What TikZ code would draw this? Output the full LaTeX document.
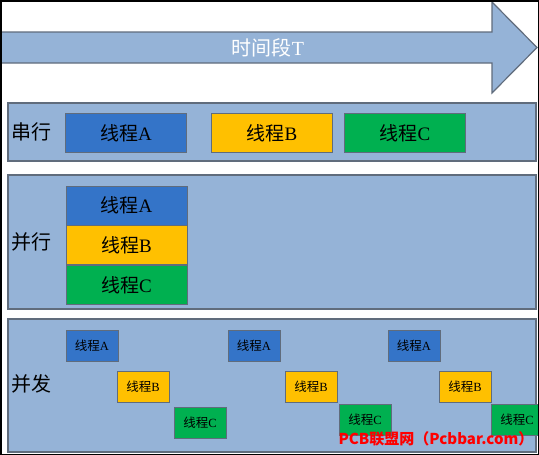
\documentclass[tikz,border=0pt]{standalone}
\usepackage{fontspec}
\setmainfont{Liberation Serif}
\newfontfamily\cjk{Noto Sans CJK SC}
\usetikzlibrary{positioning}
\definecolor{rowblue}{RGB}{149,179,215}
\definecolor{edgegray}{RGB}{96,108,124}
\definecolor{threadA}{RGB}{52,116,200}
\definecolor{threadB}{RGB}{255,192,0}
\definecolor{threadC}{RGB}{0,176,80}
\definecolor{markred}{RGB}{255,0,0}

\begin{document}
\begin{tikzpicture}[x=1pt, y=-1pt,
    band/.style={draw=edgegray, line width=1.2pt, fill=rowblue},
    mode/.style={font=\cjk\fontsize{20}{22}\selectfont, inner sep=0pt},
    big/.style={draw=edgegray, line width=0.8pt, minimum width=121pt,
                minimum height=39pt, inner sep=0pt,
                font=\fontsize{19}{21}\selectfont},
    small/.style={draw=edgegray, line width=0.8pt, minimum width=52pt,
                  minimum height=31pt, inner sep=0pt,
                  font=\fontsize{12.5}{14}\selectfont}
  ]
    \useasboundingbox (0,0) rectangle (539,455);

    %% Time arrow
    \draw[band] (1,32) -- (492,32) -- (492,2) -- (537,47.5) -- (492,93)
      -- (492,63) -- (1,63) -- cycle;
    \node[font=\fontsize{20}{22}\selectfont, text=white] (time) at (268,47.5)
      {{\cjk 时间段}T};

    %% Bands
    \draw[band] (8,103) rectangle (536,161);
    \draw[band] (8,175) rectangle (536,309);
    \draw[band] (8,319) rectangle (536,452);

    %% Serial
    \node[mode] (serial) at (32,132) {串行};
    \node[big, fill=threadA] (sA) at (126,133) {{\cjk 线程}A};
    \node[big, fill=threadB] (sB) at (272,133) {{\cjk 线程}B};
    \node[big, fill=threadC] (sC) at (405,133) {{\cjk 线程}C};

    %% Parallel
    \node[mode] (parallel) at (32,242) {并行};
    \node[big, fill=threadA] (pA) at (126.5,205.5) {{\cjk 线程}A};
    \node[big, fill=threadB, below=0pt of pA] (pB) {{\cjk 线程}B};
    \node[big, fill=threadC, below=0pt of pB] (pC) {{\cjk 线程}C};

    %% Concurrent
    \node[mode] (concurrent) at (32,384) {并发};
    \node[small, fill=threadA] (cA1) at (92,345.5) {{\cjk 线程}A};
    \node[small, fill=threadB] (cB1) at (143,387) {{\cjk 线程}B};
    \node[small, fill=threadC] (cC1) at (200,423) {{\cjk 线程}C};
    \node[small, fill=threadA] (cA2) at (254,345.5) {{\cjk 线程}A};
    \node[small, fill=threadB] (cB2) at (311,387) {{\cjk 线程}B};
    \node[small, fill=threadC] (cC2) at (365,420) {{\cjk 线程}C};
    \node[small, fill=threadA] (cA3) at (414,345.5) {{\cjk 线程}A};
    \node[small, fill=threadB] (cB3) at (465,387) {{\cjk 线程}B};
    \node[small, fill=threadC] (cC3) at (517,420) {{\cjk 线程}C};

    %% Mark
    \node[font=\cjk\bfseries\fontsize{15}{17}\selectfont, text=markred,
      inner sep=0pt] (mark) at (436,439) {PCB联盟网（Pcbbar.com）};

    %% Frame
    \draw[line width=1.5pt] (0.75,0.75) rectangle (538.25,454.25);
  \end{tikzpicture}
\end{document}
